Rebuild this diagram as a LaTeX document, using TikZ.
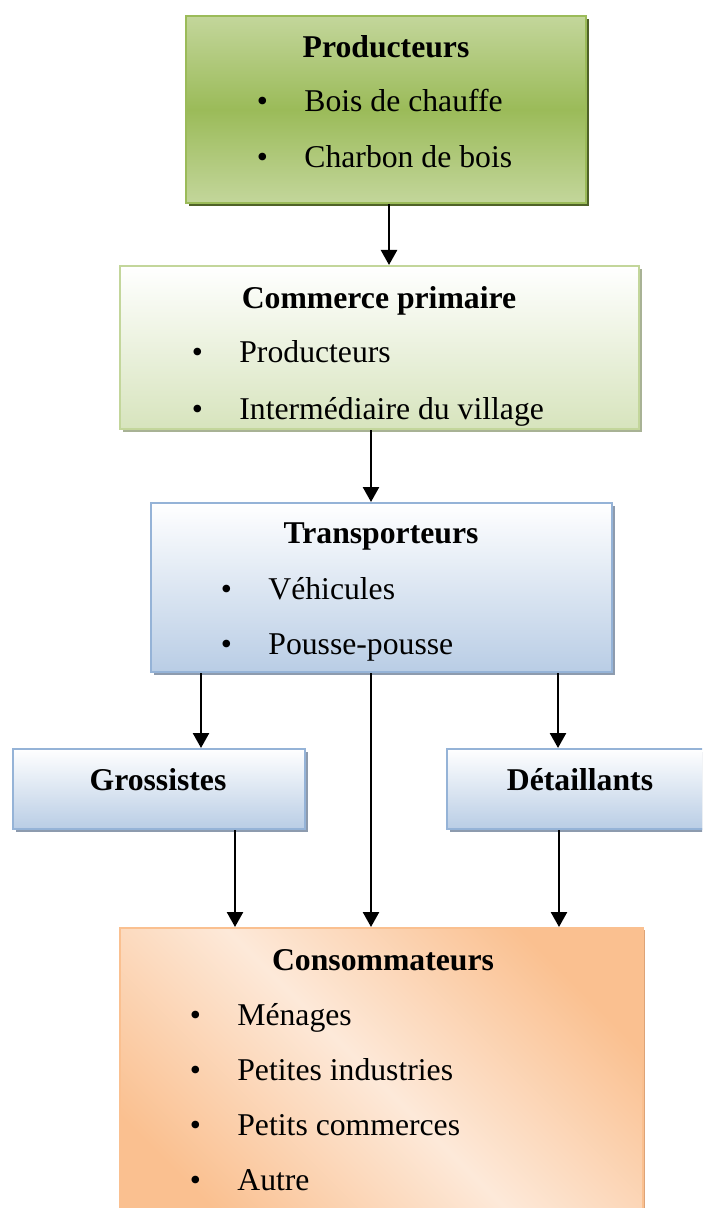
\documentclass[tikz,border=0pt]{standalone}
\usepackage{fontspec}
\setmainfont{Liberation Serif}
\usetikzlibrary{arrows.meta,shadows}
\definecolor{prodlight}{HTML}{C3D69B}
\definecolor{prodmid}{HTML}{9BBB59}
\definecolor{prodedge}{HTML}{9BBB59}
\definecolor{prodshadow}{HTML}{4F6228}
\definecolor{commlow}{HTML}{D7E4BD}
\definecolor{commedge}{HTML}{C3D69B}
\definecolor{commshadow}{HTML}{A8B295}
\definecolor{transplow}{HTML}{B9CDE5}
\definecolor{transpedge}{HTML}{95B3D7}
\definecolor{transpshadow}{HTML}{8D9BAE}
\definecolor{consodark}{HTML}{FAC090}
\definecolor{consolight}{HTML}{FDE9D9}
\definecolor{consoshadow}{HTML}{DDA377}
\newcommand{\puce}{\makebox[0pt]{\textbullet}\hspace{21pt}}

\begin{document}
\begin{tikzpicture}[x=0.5pt,y=-0.5pt,
    font=\fontsize{15.85}{19}\selectfont,
    box/.style={draw,line width=1pt,inner sep=0pt},
    prodbox/.style={box,draw=prodedge,top color=prodlight,bottom color=prodlight,middle color=prodmid,
      general shadow={fill=prodshadow,shadow xshift=1.5pt,shadow yshift=-1.5pt}},
    commbox/.style={box,draw=commedge,top color=white,bottom color=commlow,
      general shadow={fill=commshadow,shadow xshift=1.5pt,shadow yshift=-1.5pt}},
    transpbox/.style={box,draw=transpedge,top color=white,bottom color=transplow,
      general shadow={fill=transpshadow,shadow xshift=1.5pt,shadow yshift=-1.5pt}},
    consobox/.style={box,draw=consodark,top color=consodark,bottom color=consodark,middle color=consolight,shading angle=-45,
      general shadow={fill=consoshadow,shadow xshift=1pt,shadow yshift=-1pt}},
    title/.style={anchor=base,inner sep=0pt,font=\fontsize{15.85}{19}\selectfont\bfseries},
    item/.style={anchor=base west,inner sep=0pt},
    flow/.style={line width=1.25pt,-{Triangle[length=7.5pt,width=8pt]}}]
    \clip (0,0) rectangle (702,1208);

    \node[prodbox,minimum width=200pt,minimum height=93.5pt] (prod) at (386,109.5) {};
    \node[commbox,minimum width=259.5pt,minimum height=81.5pt] (comm) at (379.5,347.5) {};
    \node[transpbox,minimum width=230.5pt,minimum height=84.5pt] (transp) at (381.5,587.5) {};
    \node[transpbox,minimum width=146pt,minimum height=40pt] (gross) at (159,789) {};
    \node[transpbox,minimum width=133pt,minimum height=40pt] (detail) at (580,789) {};
    \node[consobox,minimum width=261.5pt,minimum height=156pt] (conso) at (381.5,1084) {};

    \node[title] (prodT) at (386,58) {Producteurs};
    \node[item] (prodA) at (262,112) {\puce Bois de chauffe};
    \node[item] (prodB) at (262,168) {\puce Charbon de bois};

    \node[title] (commT) at (379,308) {Commerce primaire};
    \node[item] (commA) at (197,362) {\puce Producteurs};
    \node[item] (commB) at (197,419) {\puce Intermédiaire du village};

    \node[title] (transpT) at (381,543) {Transporteurs};
    \node[item] (transpA) at (226,599) {\puce Véhicules};
    \node[item] (transpB) at (226,654) {\puce Pousse-pousse};

    \node[title] (grossT) at (158,790) {Grossistes};
    \node[title] (detailT) at (580,790) {Détaillants};

    \node[title] (consoT) at (383,970) {Consommateurs};
    \node[item] (consoA) at (195,1025) {\puce Ménages};
    \node[item] (consoB) at (195,1080) {\puce Petites industries};
    \node[item] (consoC) at (195,1135) {\puce Petits commerces};
    \node[item] (consoD) at (195,1190) {\puce Autre};

    \draw[flow] ([xshift=1.5pt]prod.south) -- ([xshift=1.5pt]prod.south |- comm.north);
    \draw[flow] ([xshift=-4.25pt]comm.south) -- ([xshift=-4.25pt]comm.south |- transp.north);
    \draw[flow] ([xshift=-90.25pt]transp.south) -- ([xshift=-90.25pt]transp.south |- gross.north);
    \draw[flow] ([xshift=88.25pt]transp.south) -- ([xshift=88.25pt]transp.south |- detail.north);
    \draw[flow] ([xshift=-5.25pt]transp.south) -- ([xshift=-5.25pt]transp.south |- conso.north);
    \draw[flow] ([xshift=38pt]gross.south) -- ([xshift=38pt]gross.south |- conso.north);
    \draw[flow] ([xshift=-10.5pt]detail.south) -- ([xshift=-10.5pt]detail.south |- conso.north);
\end{tikzpicture}
\end{document}
